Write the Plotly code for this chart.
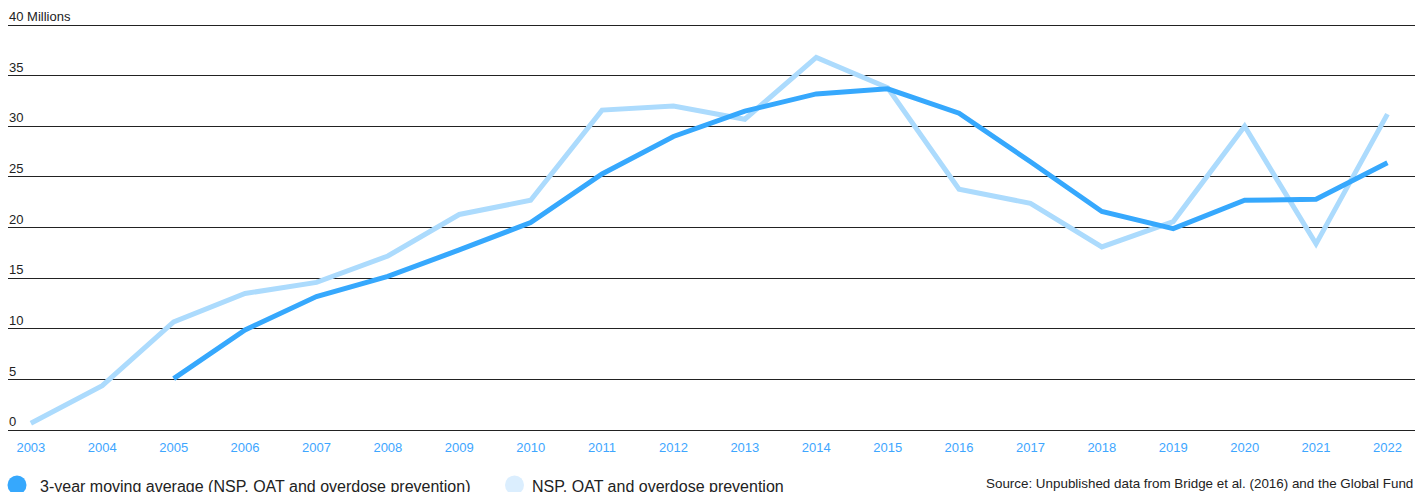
import plotly.graph_objects as go

years = list(range(2003, 2023))
moving_avg = [None, None, 5.1, 9.9, 13.2, 15.2, 17.8, 20.5, 25.3, 29.0,
              31.5, 33.2, 33.7, 31.3, 26.5, 21.6, 19.9, 22.7, 22.8, 26.4]
nsp_oat = [0.7, 4.4, 10.7, 13.5, 14.6, 17.2, 21.3, 22.7, 31.6, 32.0,
           30.7, 36.8, 33.8, 23.8, 22.4, 18.1, 20.6, 30.0, 18.4, 31.2]
y_ticks = [0, 5, 10, 15, 20, 25, 30, 35, 40]
y_tick_labels = ["0", "5", "10", "15", "20", "25", "30", "35", "40 Millions"]
legend_labels = ["3-year moving average (NSP, OAT and overdose prevention)",
                 "NSP, OAT and overdose prevention"]
source_text = "Source: Unpublished data from Bridge et al. (2016) and the Global Fund"

W, H = 1415, 492
DARK = "#36a8fd"
LIGHT = "#acdbfd"
LEG_LIGHT = "#dbeefe"
FONT = "Liberation Sans, Arial, Helvetica, sans-serif"
PX_PER_UNIT = (430.3 - 25) / 40


def px_x(p):
    return p / W


def px_y(p):
    return (H - p) / H


fig = go.Figure()
fig.add_trace(go.Scatter(x=years, y=nsp_oat, mode="lines",
                         line=dict(color=LIGHT, width=5), name=legend_labels[1],
                         showlegend=False, hoverinfo="x+y"))
fig.add_trace(go.Scatter(x=years, y=moving_avg, mode="lines",
                         line=dict(color=DARK, width=5), name=legend_labels[0],
                         showlegend=False, hoverinfo="x+y"))

annotations = []
for v, t in zip(y_ticks, y_tick_labels):
    annotations.append(dict(x=px_x(8), xref="paper", y=v, yref="y", text=t,
                            showarrow=False, xanchor="left", yanchor="bottom",
                            font=dict(family=FONT, size=13, color="#222"),
                            borderpad=0, yshift=0))

shapes = []
leg_pos = [(17, 38), (514.5, 530)]
leg_colors = [DARK, LEG_LIGHT]
for (cx, tx), col, lab in zip(leg_pos, leg_colors, legend_labels):
    cy = 485
    r = 9.5
    shapes.append(dict(type="circle", xref="paper", yref="paper",
                       x0=px_x(cx - r), x1=px_x(cx + r),
                       y0=px_y(cy + r), y1=px_y(cy - r),
                       fillcolor=col, line=dict(width=0)))
    annotations.append(dict(x=px_x(tx), xref="paper", y=px_y(486.5), yref="paper",
                            text=lab, showarrow=False, xanchor="left",
                            yanchor="middle",
                            font=dict(family=FONT, size=16, color="#222")))

annotations.append(dict(x=1, xref="paper", y=px_y(483), yref="paper",
                        text=source_text, showarrow=False, xanchor="right",
                        yanchor="middle",
                        font=dict(family=FONT, size=13.4, color="#222")))

top_val = 40.2
fig.update_layout(
    width=W, height=H,
    margin=dict(l=0, r=0, t=0, b=0),
    paper_bgcolor="white", plot_bgcolor="white",
    showlegend=False,
    annotations=annotations,
    shapes=shapes,
    xaxis=dict(domain=[px_x(8), 1], range=[2002.68, 2022.386],
               tickmode="array", tickvals=years, ticktext=[str(y) for y in years],
               showgrid=False, zeroline=False, showline=False,
               ticks="outside", ticklen=5, tickcolor="rgba(0,0,0,0)",
               tickfont=dict(family=FONT, size=13, color="#3ea6ff")),
    yaxis=dict(domain=[px_y(430.3), px_y(25 - (top_val - 40) * PX_PER_UNIT)],
               range=[0, top_val],
               tickmode="array", tickvals=y_ticks, showticklabels=False,
               showgrid=True, gridcolor="#222", gridwidth=1,
               zeroline=True, zerolinecolor="#222", zerolinewidth=1,
               showline=False, ticks=""),
    hovermode="closest",
)

fig.write_html("out.html")
